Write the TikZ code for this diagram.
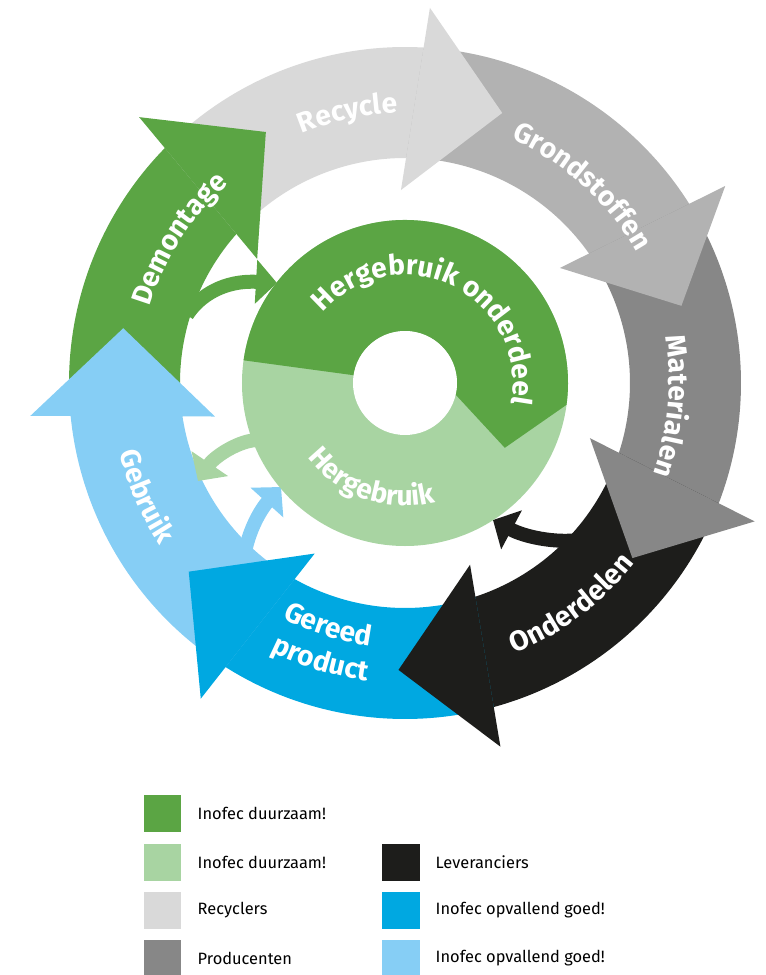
\documentclass[tikz,border=0pt]{standalone}
\usepackage{fontspec}
\setmainfont{Fira Sans}
\usepackage{tikz}
\usetikzlibrary{positioning,arrows.meta,decorations.text}

\definecolor{dgreen}{HTML}{5BA544}
\definecolor{lgreen}{HTML}{A8D4A2}
\definecolor{lgrey}{HTML}{D9D9D9}
\definecolor{mgrey}{HTML}{B2B2B2}
\definecolor{dgrey}{HTML}{878787}
\definecolor{nblack}{HTML}{1D1D1B}
\definecolor{iblue}{HTML}{00A8E1}
\definecolor{lblue}{HTML}{86CEF5}

\newcommand{\lblfont}{\bfseries\fontsize{24}{28}\selectfont}

\begin{document}
\begin{tikzpicture}[
    x=0.03cm, y=0.03cm,
    lbl/.style={decorate, decoration={text along path, text={|\lblfont|#1}, text align=center, text color=white}},
    link/.style={line width=0.42cm, -{Triangle[length=0.63cm, width=1.29cm]}},
    key/.style={minimum size=1.11cm, inner sep=0pt, outer sep=0pt},
    keytext/.style={inner sep=0pt, font=\fontsize{14}{16}\selectfont}
]
\useasboundingbox (-405,-592) rectangle (361,383);

% Ring bodies
\fill[dgreen] (185.6:336) arc[start angle=185.6, end angle=134.6, radius=336] -- (137.5:225) arc[start angle=137.5, end angle=188.5, radius=225] -- cycle;
\fill[lgrey] (135.6:336) arc[start angle=135.6, end angle=85.8, radius=336] -- (88.7:225) arc[start angle=88.7, end angle=138.5, radius=225] -- cycle;
\fill[mgrey] (86.8:336) arc[start angle=86.8, end angle=31.2, radius=336] -- (34.1:225) arc[start angle=34.1, end angle=89.7, radius=225] -- cycle;
\fill[dgrey] (32.2:336) arc[start angle=32.2, end angle=-22, radius=336] -- (-19.1:225) arc[start angle=-19.1, end angle=35.1, radius=225] -- cycle;
\fill[nblack] (-21:336) arc[start angle=-21, end angle=-75.7, radius=336] -- (-72.8:225) arc[start angle=-72.8, end angle=-18.1, radius=225] -- cycle;
\fill[iblue] (-74.7:336) arc[start angle=-74.7, end angle=-123.3, radius=336] -- (-120.4:225) arc[start angle=-120.4, end angle=-71.8, radius=225] -- cycle;
\fill[lblue] (-122.3:336) arc[start angle=-122.3, end angle=-175.4, radius=336] -- (-172.5:225) arc[start angle=-172.5, end angle=-119.4, radius=225] -- cycle;

% Arrow heads
\fill[dgreen] (140:193) -- (135:376) -- (119:287) -- cycle;
\fill[lgrey] (91.2:193) -- (86.2:376) -- (70.2:287) -- cycle;
\fill[mgrey] (36.6:193) -- (31.6:376) -- (15.6:287) -- cycle;
\fill[dgrey] (-16.6:193) -- (-21.6:376) -- (-37.6:287) -- cycle;
\fill[nblack] (-70.3:193) -- (-75.3:376) -- (-91.3:287) -- cycle;
\fill[iblue] (-117.9:193) -- (-122.9:376) -- (-138.9:287) -- cycle;
\fill[lblue] (-170:193) -- (-175:376) -- (-191:287) -- cycle;

% Small links to and from the inner ring
\coordinate (dem) at (-218,68);
\coordinate (reuse) at (-128,100);
\coordinate (ring) at (-147,-57);
\coordinate (use) at (-207,-98);
\coordinate (prod) at (-160,-169);
\coordinate (back) at (-124,-104);
\coordinate (part) at (173,-157);
\coordinate (ringb) at (88,-137);
\draw[link, dgreen] (dem) .. controls (-205,88) and (-180,103) .. (reuse);
\draw[link, lgreen] (ring) .. controls (-165,-57) and (-190,-73) .. (use);
\draw[link, lblue] (prod) .. controls (-155,-144) and (-143,-125) .. (back);
\draw[link, nblack] (part) .. controls (150,-160) and (120,-154) .. (ringb);

% Inner ring
\fill[lgreen] (0,0) circle[radius=163];
\fill[dgreen] (172:163) arc[start angle=172, end angle=-7.7, radius=163] -- (-33:119) -- (-13:52) arc[start angle=-13, end angle=171.4, radius=52] -- cycle;
\fill[white] (0,0) circle[radius=52];

% Labels
\path[lbl={Recycle}] (132:270) arc[start angle=132, end angle=72, radius=270];
\path[lbl={Grondstoffen}] (83:266) arc[start angle=83, end angle=13, radius=266];
\path[lbl={Materialen}] (30:264) arc[start angle=30, end angle=-40, radius=264];
\path[lbl={Onderdelen}] (-88:292) arc[start angle=-88, end angle=-18, radius=292];
\path[lbl={Gereed}] (-137.5:265) arc[start angle=-137.5, end angle=-77.5, radius=265];
\path[lbl={product}] (-137:300) arc[start angle=-137, end angle=-77, radius=300];
\path[lbl={Gebruik}] (173.6:294) arc[start angle=173.6, end angle=233.6, radius=294];
\path[lbl={Demontage}] (182.5:266) arc[start angle=182.5, end angle=112.5, radius=266];
\path[lbl={Hergebruik onderdeel}] (154:108) arc[start angle=154, end angle=-26, radius=108];
\path[lbl={Hergebruik}] (196:123) arc[start angle=196, end angle=306, radius=123];

% Legend
\node[key, fill=dgreen] (k1) at (-242,-430) {};
\node[key, fill=lgreen] (k2) at (-242,-479) {};
\node[key, fill=lgrey] (k3) at (-242,-527) {};
\node[key, fill=dgrey] (k4) at (-242,-575) {};
\node[key, fill=nblack] (k5) at (-4,-479) {};
\node[key, fill=iblue] (k6) at (-4,-527) {};
\node[key, fill=lblue] (k7) at (-4,-575) {};
\node[keytext, right=4.8mm of k1] (t1) {Inofec duurzaam!};
\node[keytext, right=4.8mm of k2] (t2) {Inofec duurzaam!};
\node[keytext, right=4.8mm of k3] (t3) {Recyclers};
\node[keytext, right=4.8mm of k4] (t4) {Producenten};
\node[keytext, right=4.8mm of k5] (t5) {Leveranciers};
\node[keytext, right=4.8mm of k6] (t6) {Inofec opvallend goed!};
\node[keytext, right=4.8mm of k7] (t7) {Inofec opvallend goed!};

\end{tikzpicture}
\end{document}
